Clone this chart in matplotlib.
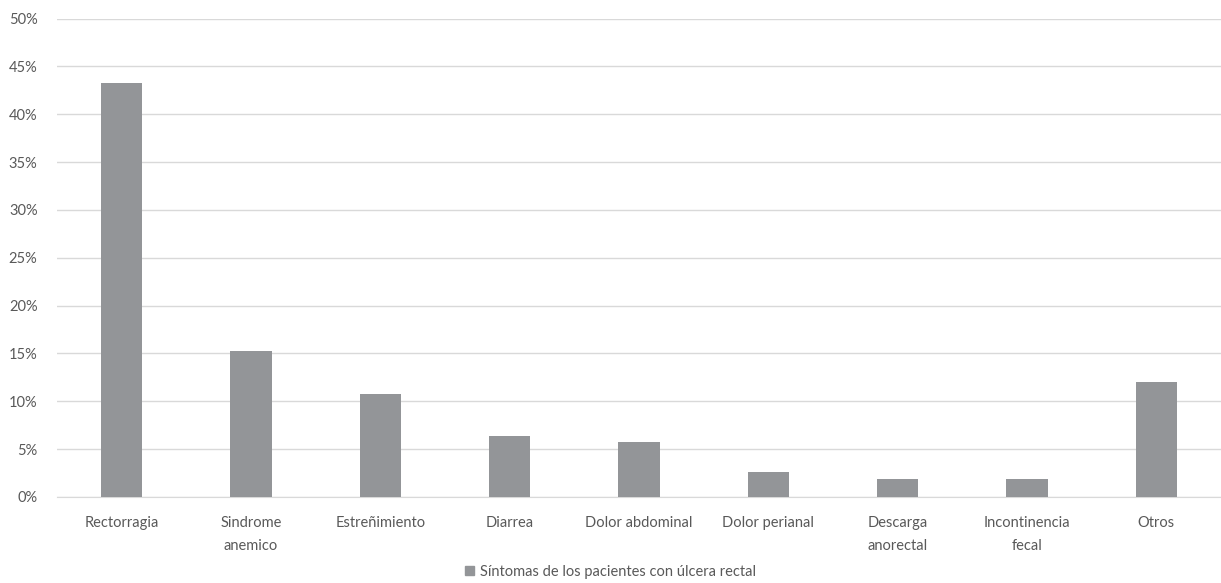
import matplotlib.pyplot as plt
from matplotlib.patches import Patch
from matplotlib.ticker import PercentFormatter

# Datos
categorias = ['Rectorragia', 'Sindrome\nanemico', 'Estreñimiento', 'Diarrea',
              'Dolor abdominal', 'Dolor perianal', 'Descarga\nanorectal',
              'Incontinencia\nfecal', 'Otros']
porcentajes = [43.3, 15.3, 10.8, 6.4, 5.7, 2.6, 1.9, 1.9, 12.0]
serie = 'Síntomas de los pacientes con úlcera rectal'

plt.rcParams['font.family'] = ['Lato', 'DejaVu Sans']

color_barra = '#939598'
color_texto = '#595959'
color_grid = '#d9d9d9'

fig = plt.figure(figsize=(12.21, 5.83), dpi=100)
ax = fig.add_axes([57 / 1221, 1 - 497 / 583, 1 - 57 / 1221, (497 - 18.5) / 583])

x = range(len(categorias))
ax.bar(x, porcentajes, width=0.32, color=color_barra, zorder=3)

ax.set_xlim(-0.5, len(categorias) - 0.5)
ax.set_ylim(0, 50)
ax.set_yticks(range(0, 51, 5))
ax.yaxis.set_major_formatter(PercentFormatter(decimals=0))
ax.set_xticks(list(x))
ax.set_xticklabels(categorias, color=color_texto, fontsize=10.5, linespacing=1.75)
ax.tick_params(axis='y', colors=color_texto, labelsize=10.5, length=0, pad=14)
ax.tick_params(axis='x', length=0, pad=14)

ax.grid(axis='y', color=color_grid, linewidth=1, zorder=0)
for lado in ['top', 'right', 'left']:
    ax.spines[lado].set_visible(False)
ax.spines['bottom'].set_color(color_grid)

fig.legend(handles=[Patch(color=color_barra, label=serie)], loc='center',
           bbox_to_anchor=(0.5, 1 - 572 / 583), frameon=False,
           handlelength=0.6, handleheight=0.6, handletextpad=0.4,
           labelcolor=color_texto, fontsize=10.5)

fig.savefig('out.png', dpi=100)
